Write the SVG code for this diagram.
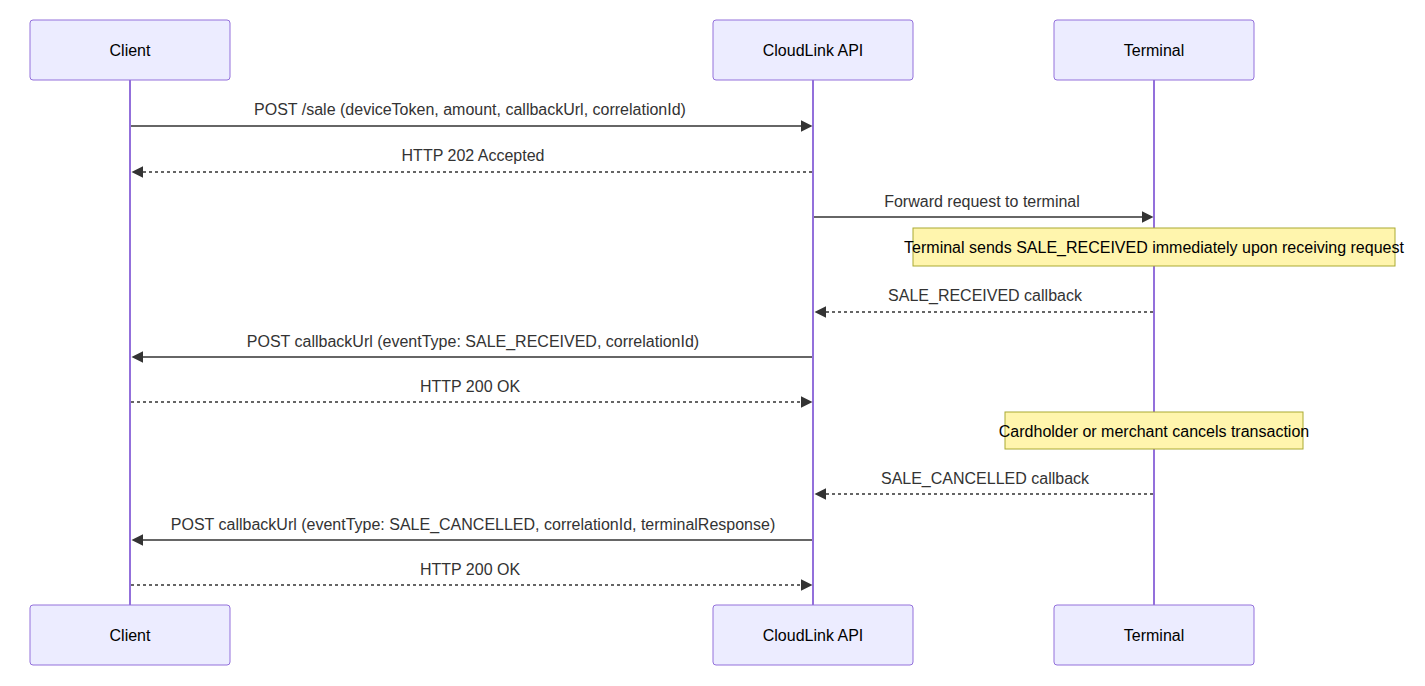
<svg xmlns="http://www.w3.org/2000/svg" width="1425" height="686" viewBox="0 0 1425 686">
<defs>
<marker id="arrow" viewBox="0 0 10 10" refX="7.9" refY="5" markerUnits="userSpaceOnUse" markerWidth="12" markerHeight="12" orient="auto"><path d="M 0 0 L 10 5 L 0 10 z" fill="#333"/></marker>
<style>
.actor{fill:#ECECFF;stroke:#9370DB;stroke-width:1}
.atext{font-family:"Liberation Sans",Arial,sans-serif;font-size:16px;fill:#000;text-anchor:middle;dominant-baseline:central}
.life{stroke:#9370DB;stroke-width:2}
.msg{stroke:#333;stroke-width:1.5;fill:none;marker-end:url(#arrow)}
.dash{stroke-dasharray:3,3}
.mtext{font-family:"Liberation Sans",Arial,sans-serif;font-size:16px;fill:#333;text-anchor:middle}
.note{fill:#fff5ad;stroke:#aaaa33;stroke-width:1}
.ntext{font-family:"Liberation Sans",Arial,sans-serif;font-size:16px;fill:#000;text-anchor:middle;dominant-baseline:central}
</style>
</defs>
<rect width="1425" height="686" fill="#fff"/>
<g id="lifelines">
<line class="life" x1="130" y1="80" x2="130" y2="605"/>
<line class="life" x1="813" y1="80" x2="813" y2="605"/>
<line class="life" x1="1154" y1="80" x2="1154" y2="605"/>
</g>
<g id="client-top"><rect class="actor" x="30" y="20" width="200" height="60" rx="3"/><text class="atext" x="130" y="50">Client</text></g>
<g id="cloudlink-top"><rect class="actor" x="713" y="20" width="200" height="60" rx="3"/><text class="atext" x="813" y="50">CloudLink API</text></g>
<g id="terminal-top"><rect class="actor" x="1054" y="20" width="200" height="60" rx="3"/><text class="atext" x="1154" y="50">Terminal</text></g>
<g id="client-bottom"><rect class="actor" x="30" y="605" width="200" height="60" rx="3"/><text class="atext" x="130" y="635">Client</text></g>
<g id="cloudlink-bottom"><rect class="actor" x="713" y="605" width="200" height="60" rx="3"/><text class="atext" x="813" y="635">CloudLink API</text></g>
<g id="terminal-bottom"><rect class="actor" x="1054" y="605" width="200" height="60" rx="3"/><text class="atext" x="1154" y="635">Terminal</text></g>
<g id="note1"><rect class="note" x="913" y="228" width="482" height="38"/><text class="ntext" x="1154" y="247">Terminal sends SALE_RECEIVED immediately upon receiving request</text></g>
<g id="note2"><rect class="note" x="1005" y="412" width="298" height="37"/><text class="ntext" x="1154" y="431">Cardholder or merchant cancels transaction</text></g>
<g id="connectors">
<line class="msg" x1="131" y1="126" x2="810" y2="126"/>
<text class="mtext" x="470" y="115">POST /sale (deviceToken, amount, callbackUrl, correlationId)</text>
<line class="msg dash" x1="812" y1="172" x2="134" y2="172"/>
<text class="mtext" x="473" y="161">HTTP 202 Accepted</text>
<line class="msg" x1="814" y1="217" x2="1151" y2="217"/>
<text class="mtext" x="982" y="207">Forward request to terminal</text>
<line class="msg dash" x1="1153" y1="312" x2="817" y2="312"/>
<text class="mtext" x="985" y="301">SALE_RECEIVED callback</text>
<line class="msg" x1="812" y1="357" x2="134" y2="357"/>
<text class="mtext" x="473" y="347">POST callbackUrl (eventType: SALE_RECEIVED, correlationId)</text>
<line class="msg dash" x1="131" y1="402" x2="810" y2="402"/>
<text class="mtext" x="470" y="392">HTTP 200 OK</text>
<line class="msg dash" x1="1153" y1="494" x2="817" y2="494"/>
<text class="mtext" x="985" y="484">SALE_CANCELLED callback</text>
<line class="msg" x1="812" y1="540" x2="134" y2="540"/>
<text class="mtext" x="473" y="530">POST callbackUrl (eventType: SALE_CANCELLED, correlationId, terminalResponse)</text>
<line class="msg dash" x1="131" y1="585" x2="810" y2="585"/>
<text class="mtext" x="470" y="575">HTTP 200 OK</text>
</g>
</svg>
